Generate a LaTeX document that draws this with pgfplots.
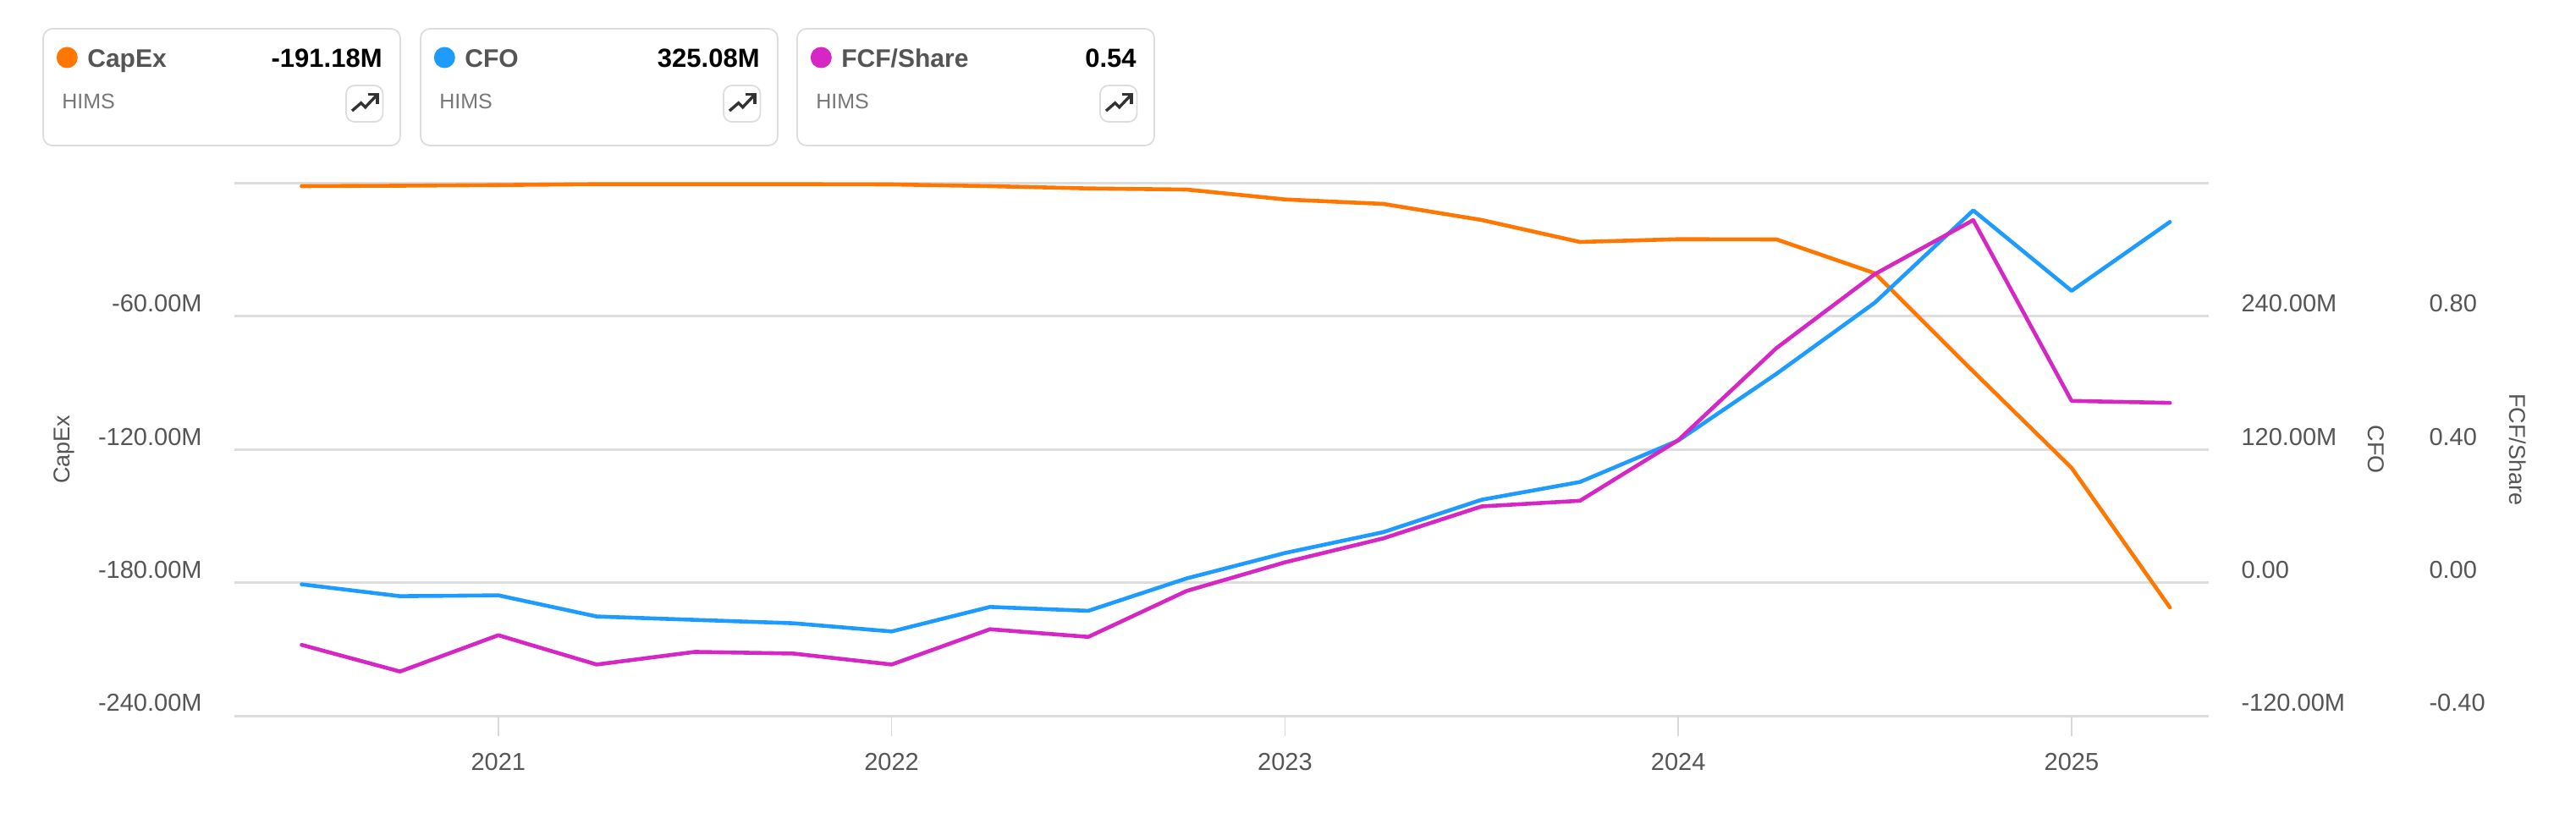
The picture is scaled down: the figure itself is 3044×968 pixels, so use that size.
\documentclass[border=0pt]{standalone}
\usepackage{fontspec}
\setmainfont{Liberation Sans}
\usepackage{pgfplots}
\usepackage{pgfplotstable}
\pgfplotsset{compat=1.18}

\definecolor{capexc}{HTML}{FF7700}
\definecolor{cfoc}{HTML}{1E9BFF}
\definecolor{fcfc}{HTML}{D626C4}
\definecolor{gridc}{HTML}{DDDDDD}
\definecolor{tickc}{HTML}{D8D8D8}
\definecolor{textc}{HTML}{555555}

\pgfplotstableread{
date     capex    cfo      fcf
2020.50  -1.33    -1.52    -0.187
2020.75  -1.14    -12.2    -0.267
2021.00  -0.84    -11.44   -0.158
2021.25  -0.46    -30.5    -0.246
2021.50  -0.46    -33.55   -0.208
2021.75  -0.46    -36.6    -0.213
2022.00  -0.57    -44.0    -0.246
2022.25  -1.33    -21.9    -0.140
2022.50  -2.36    -25.4    -0.163
2022.75  -2.86    3.81     -0.025
2023.00  -7.32    26.7     0.061
2023.25  -9.34    45.5     0.133
2023.50  -16.58   74.7     0.229
2023.75  -26.49   90.7     0.246
2024.00  -25.24   128.1    0.428
2024.25  -25.35   188.3    0.705
2024.50  -40.60   252.4    0.927
2024.75  -84.82   335.5    1.089
2025.00  -128.28  263.0    0.546
2025.25  -191.18  325.08   0.540
}\hims

% all three axes share this frame
\pgfplotsset{
  frame/.style={
    at={(138.5pt,-423pt)}, anchor=south west,
    scale only axis, width=1166.5pt, height=314.75pt,
    xmin=2020.329, xmax=2025.349,
    clip=false,
    axis line style={draw=none},
    tick label style={font=\fontsize{14.5}{17}\selectfont, text=textc, inner sep=0pt},
  },
  curve/.style={line width=2.3pt, line join=round, line cap=round, no marks},
}
\tikzset{ylab/.style={font=\fontsize{13.5}{16}\selectfont, text=textc, inner sep=0pt, anchor=center}}

% card: left edge, title, value, colour
\newcommand{\card}[4]{
  \begin{scope}[xshift=#1*0.5pt]
    \draw[gridc, line width=0.9pt, rounded corners=5.5pt] (0,34) rectangle (422,172);
    \fill[#4] (28.3,68) circle[radius=12.5];
    \node[anchor=base west, inner sep=0pt, text=textc] at (52,79.5)
      {\fontsize{15}{18}\selectfont\bfseries #2};
    \node[anchor=base east, inner sep=0pt, text=black] at (401,79.5)
      {\fontsize{15.5}{18}\selectfont\bfseries #3};
    \node[anchor=base west, inner sep=0pt, text=textc!80] at (22,128.7)
      {\fontsize{12.5}{15}\selectfont HIMS};
    \draw[gridc, line width=0.9pt, rounded corners=5pt] (358,101) rectangle (401.5,144);
    \draw[black!80, line width=1.7pt] (365,131) -- (375.7,121.7) -- (380.7,126.7) -- (394,112.7);
    \draw[black!80, line width=1.7pt] (384,111.7) -- (395,111.7) -- (395,122.7);
  \end{scope}
}

\begin{document}
\begin{tikzpicture}[x=0.5pt, y=-0.5pt]
\path[use as bounding box] (0,0) rectangle (3044,968);

\card{51}{CapEx}{-191.18M}{capexc}
\card{497}{CFO}{325.08M}{cfoc}
\card{942}{FCF/Share}{0.54}{fcfc}

% CapEx, left scale, carries grid and x ticks
\begin{axis}[
  frame,
  ymin=-240, ymax=0,
  ytick={-240,-180,-120,-60,0},
  yticklabels={-240.00M,-180.00M,-120.00M,-60.00M,},
  xtick={2021,2022,2023,2024,2025},
  xticklabels={2021,2022,2023,2024,2025},
  xtick pos=bottom, xtick align=outside, ytick align=inside,
  major tick length=12pt,
  x tick style={tickc, line width=0.75pt},
  y tick style={draw=none},
  ymajorgrids,
  grid style={gridc, line width=1.5pt},
  yticklabel style={anchor=east, xshift=-19pt, yshift=7.5pt},
  xticklabel style={anchor=north, yshift=-10pt},
  every axis y label/.style={at={(axis description cs:-0.0862,0.5)}, rotate=90, ylab},
  ylabel={CapEx},
]
\addplot[curve, capexc] table[x=date, y=capex] {\hims};
\end{axis}

% CFO, first right scale
\begin{axis}[
  frame,
  ymin=-120, ymax=360,
  xtick=\empty,
  axis x line=none,
  axis y line*=right,
  ytick={-120,0,120,240,360},
  yticklabels={-120.00M,0.00,120.00M,240.00M,},
  y tick style={draw=none},
  ytick align=inside,
  yticklabel style={anchor=west, xshift=19pt, yshift=7.5pt},
  every axis y label/.style={at={(axis description cs:1.0845,0.5)}, rotate=-90, ylab},
  ylabel={CFO},
]
\addplot[curve, cfoc] table[x=date, y=cfo] {\hims};
\end{axis}

% FCF/Share, second right scale
\begin{axis}[
  frame,
  ymin=-0.4, ymax=1.2,
  xtick=\empty,
  axis x line=none,
  axis y line*=right,
  ytick={-0.4,0,0.4,0.8,1.2},
  yticklabels={-0.40,0.00,0.40,0.80,},
  y tick style={draw=none},
  ytick align=inside,
  yticklabel style={anchor=west, xshift=130pt, yshift=7.5pt},
  every axis y label/.style={at={(axis description cs:1.1565,0.5)}, rotate=-90, ylab},
  ylabel={FCF/Share},
]
\addplot[curve, fcfc] table[x=date, y=fcf] {\hims};
\end{axis}
\end{tikzpicture}
\end{document}
